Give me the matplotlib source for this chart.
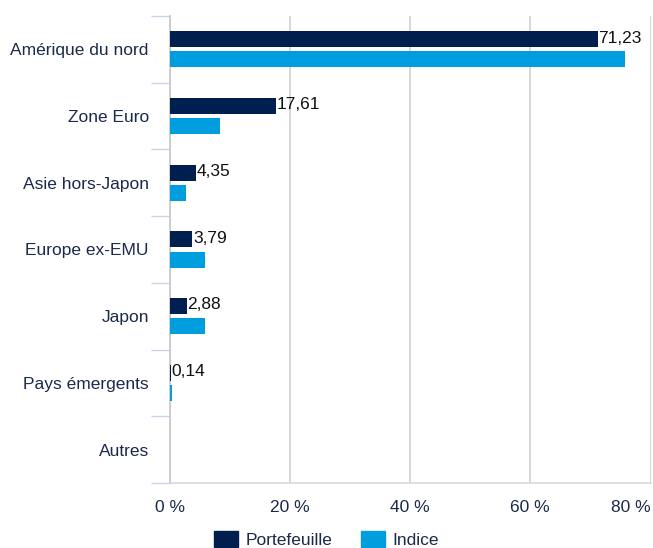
import matplotlib
matplotlib.use("Agg")
import matplotlib.pyplot as plt
import numpy as np
from matplotlib.patches import Patch

plt.rcParams['font.family'] = ['Liberation Sans', 'DejaVu Sans']

categories = ["Amérique du nord", "Zone Euro", "Asie hors-Japon", "Europe ex-EMU",
              "Japon", "Pays émergents", "Autres"]
portefeuille = [71.23, 17.61, 4.35, 3.79, 2.88, 0.14, 0.0]
indice = [75.8, 8.4, 2.7, 5.8, 5.8, 0.3, 0.0]
labels_port = ["71,23", "17,61", "4,35", "3,79", "2,88", "0,14", ""]
xticks = [0, 20, 40, 60, 80]
xticklabels = ["0 %", "20 %", "40 %", "60 %", "80 %"]

navy = "#001f4f"
blue = "#009ddf"
txt = "#1b2a4a"
fs = 12.5

fig = plt.figure(figsize=(6.53, 5.48), dpi=100)
ax = fig.add_axes([169.7/653, 1-483/548, (650.5-169.7)/653, (483-16)/548])

y = np.arange(len(categories))
h = 0.24
off = 0.15
ax.barh(y - off, portefeuille, height=h, color=navy, zorder=3)
ax.barh(y + off, indice, height=h, color=blue, zorder=3)
for yi, v, lab in zip(y, portefeuille, labels_port):
    if lab:
        ax.text(v + 0.1, yi - off - 0.02, lab, va='center', ha='left', fontsize=fs, color='#111111')

ax.set_ylim(len(categories) - 0.5, -0.5)
ax.set_xlim(0, 80)
ax.set_xticks(xticks)
ax.set_xticklabels(xticklabels, color=txt, fontsize=fs)
ax.get_xticklabels()[-1].set_ha('right')
ax.set_yticks(y)
ax.set_yticklabels(categories, color=txt, fontsize=fs)
ax.set_yticks(np.arange(len(categories) + 1) - 0.5, minor=True)
ax.tick_params(axis='y', which='major', length=0, pad=15)
ax.tick_params(axis='y', which='minor', length=14, color='#c8d4ea', width=1)
ax.tick_params(axis='x', length=0, pad=12)
ax.grid(axis='x', color='#d0d0d0', linewidth=1.2, zorder=0)
for s in ['top', 'right']:
    ax.spines[s].set_visible(False)
ax.spines['left'].set_color('#c8c8c8')
ax.spines['left'].set_linewidth(1.2)
ax.spines['bottom'].set_color('#d8d8d8')
ax.spines['bottom'].set_linewidth(1.2)

handles = [Patch(color=navy, label="Portefeuille"), Patch(color=blue, label="Indice")]
fig.legend(handles=handles, loc='lower center', bbox_to_anchor=(0.5, -0.028), ncol=2, frameon=False,
           fontsize=fs, handlelength=1.38, handleheight=1.0, columnspacing=1.6, handletextpad=0.45,
           labelcolor=txt)

fig.savefig("out.png", dpi=100)
